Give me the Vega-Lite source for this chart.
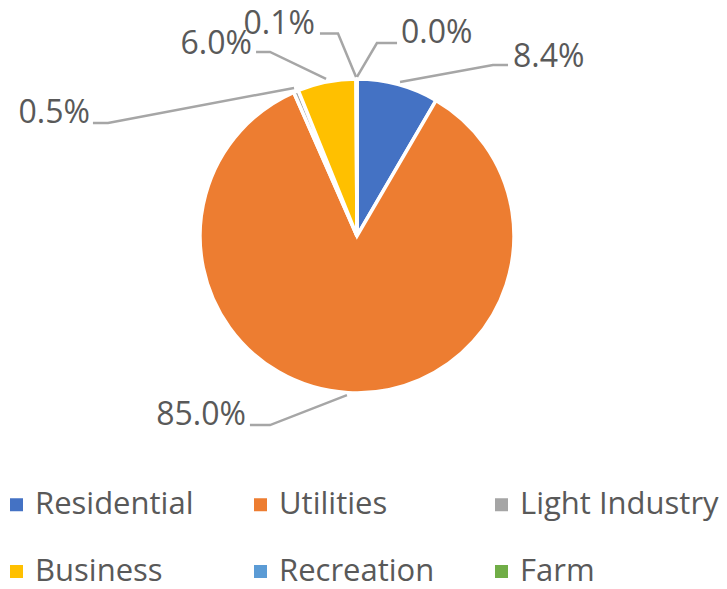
{
  "$schema": "https://vega.github.io/schema/vega-lite/v6.json",
  "width": 714,
  "height": 472,
  "autosize": {"type": "none"},
  "padding": {"left": 0, "top": 0, "right": 13, "bottom": 117},
  "background": "white",
  "config": {"view": {"stroke": null}},
  "datasets": {
    "slices": [
      {"category": "Residential", "idx": 1, "pct": 8.4},
      {"category": "Utilities", "idx": 2, "pct": 85.0},
      {"category": "Light Industry", "idx": 3, "pct": 0.5},
      {"category": "Business", "idx": 4, "pct": 6.0},
      {"category": "Recreation", "idx": 5, "pct": 0.1},
      {"category": "Farm", "idx": 6, "pct": 0.0}
    ],
    "leaders": [
      {"label": "8.4%", "seq": 1, "u": 27.4, "v": 98.1},
      {"label": "8.4%", "seq": 2, "u": 86.6, "v": 108.9},
      {"label": "8.4%", "seq": 3, "u": 96.2, "v": 108.9},
      {"label": "0.0%", "seq": 1, "u": 0.0, "v": 101.3},
      {"label": "0.0%", "seq": 2, "u": 12.7, "v": 122.9},
      {"label": "0.0%", "seq": 3, "u": 25.5, "v": 122.9},
      {"label": "0.1%", "seq": 1, "u": -0.6, "v": 101.3},
      {"label": "0.1%", "seq": 2, "u": -12.1, "v": 128.9},
      {"label": "0.1%", "seq": 3, "u": -23.6, "v": 128.9},
      {"label": "6.0%", "seq": 1, "u": -19.7, "v": 100.0},
      {"label": "6.0%", "seq": 2, "u": -55.4, "v": 117.2},
      {"label": "6.0%", "seq": 3, "u": -64.3, "v": 117.2},
      {"label": "0.5%", "seq": 1, "u": -40.1, "v": 94.3},
      {"label": "0.5%", "seq": 2, "u": -158.6, "v": 72.0},
      {"label": "0.5%", "seq": 3, "u": -168.2, "v": 72.0},
      {"label": "85.0%", "seq": 1, "u": -6.4, "v": -101.3},
      {"label": "85.0%", "seq": 2, "u": -55.4, "v": -120.4},
      {"label": "85.0%", "seq": 3, "u": -68.2, "v": -120.4}
    ],
    "labels": [
      {"label": "8.4%", "u": 99.4, "v": 107.6, "side": "left"},
      {"label": "0.0%", "u": 28.0, "v": 122.9, "side": "left"},
      {"label": "0.1%", "u": -26.8, "v": 128.9, "side": "right"},
      {"label": "6.0%", "u": -66.9, "v": 115.9, "side": "right"},
      {"label": "0.5%", "u": -170.1, "v": 72.0, "side": "right"},
      {"label": "85.0%", "u": -70.7, "v": -120.4, "side": "right"}
    ]
  },
  "layer": [
    {
      "data": {"name": "slices"},
      "mark": {"type": "arc", "outerRadius": 157, "stroke": "white", "strokeWidth": 3.5},
      "encoding": {
        "theta": {"field": "pct", "type": "quantitative", "stack": true},
        "order": {"field": "idx", "type": "quantitative", "sort": "ascending"},
        "color": {
          "field": "category",
          "type": "nominal",
          "sort": null,
          "scale": {
            "domain": ["Residential", "Utilities", "Light Industry", "Business", "Recreation", "Farm"],
            "range": ["#4472C4", "#ED7D31", "#A5A5A5", "#FFC000", "#5B9BD5", "#70AD47"]
          },
          "legend": {
            "title": null,
            "orient": "none",
            "legendX": 1,
            "legendY": 489,
            "direction": "horizontal",
            "columns": 3,
            "columnPadding": 51,
            "rowPadding": 35,
            "padding": 0,
            "symbolType": "square",
            "symbolSize": 169,
            "symbolStrokeWidth": 0,
            "symbolOpacity": 1,
            "labelFont": "Open Sans",
            "labelFontSize": 31,
            "labelColor": "#595959",
            "labelOffset": 3,
            "labelLimit": 400
          }
        }
      }
    },
    {
      "data": {"name": "leaders"},
      "mark": {"type": "line", "stroke": "#a6a6a6", "strokeWidth": 2.5},
      "encoding": {
        "x": {"field": "u", "type": "quantitative", "scale": {"domain": [-227.4, 227.4], "nice": false, "zero": false}, "axis": null},
        "y": {"field": "v", "type": "quantitative", "scale": {"domain": [-150.3, 150.3], "nice": false, "zero": false}, "axis": null},
        "detail": {"field": "label", "type": "nominal"},
        "order": {"field": "seq", "type": "quantitative"}
      }
    },
    {
      "data": {"name": "labels"},
      "transform": [{"filter": "datum.side === 'left'"}],
      "mark": {"type": "text", "align": "left", "baseline": "alphabetic", "font": "Open Sans", "fontSize": 32, "color": "#595959"},
      "encoding": {
        "x": {"field": "u", "type": "quantitative"},
        "y": {"field": "v", "type": "quantitative"},
        "text": {"field": "label", "type": "nominal"}
      }
    },
    {
      "data": {"name": "labels"},
      "transform": [{"filter": "datum.side === 'right'"}],
      "mark": {"type": "text", "align": "right", "baseline": "alphabetic", "font": "Open Sans", "fontSize": 32, "color": "#595959"},
      "encoding": {
        "x": {"field": "u", "type": "quantitative"},
        "y": {"field": "v", "type": "quantitative"},
        "text": {"field": "label", "type": "nominal"}
      }
    }
  ]
}
